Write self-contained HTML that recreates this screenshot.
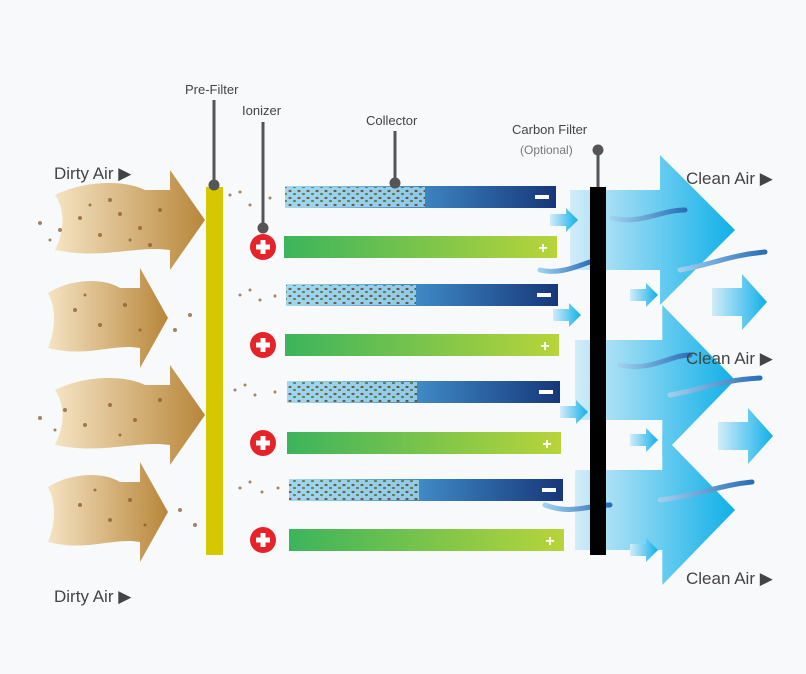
<!DOCTYPE html>
<html><head><meta charset="utf-8"><style>
html,body{margin:0;padding:0;background:#f8f9fb;}
svg{display:block;}
text{font-family:"Liberation Sans",sans-serif;fill:#444;}
</style></head><body>
<svg width="806" height="674" viewBox="0 0 806 674" xmlns="http://www.w3.org/2000/svg">
<defs>
<linearGradient id="br" x1="0" x2="1"><stop offset="0" stop-color="#f5e3c2"/><stop offset="1" stop-color="#b8863a"/></linearGradient>
<linearGradient id="bl" x1="0" x2="1"><stop offset="0" stop-color="#d3ecf9"/><stop offset="1" stop-color="#0fb0e8"/></linearGradient>
<linearGradient id="neg" x1="0" x2="1"><stop offset="0" stop-color="#a8dcf3"/><stop offset="0.5" stop-color="#3d86c2"/><stop offset="1" stop-color="#16377a"/></linearGradient>
<linearGradient id="pos" x1="0" x2="1"><stop offset="0" stop-color="#3cb45c"/><stop offset="1" stop-color="#b8d43a"/></linearGradient>
<linearGradient id="sw" x1="0" x2="1"><stop offset="0" stop-color="#9fd0ee"/><stop offset="1" stop-color="#2a6eb8"/></linearGradient>
<pattern id="dust" width="9" height="7" patternUnits="userSpaceOnUse">
<rect width="9" height="7" fill="#9fd6ef"/>
<ellipse cx="2" cy="2" rx="1.6" ry="1.1" fill="#6b4a2a"/><ellipse cx="6.5" cy="5" rx="1.6" ry="1.1" fill="#5a7a3a"/>
</pattern>
<linearGradient id="fade" x1="0" x2="1"><stop offset="0" stop-color="#fff" stop-opacity="1"/><stop offset="0.8" stop-color="#fff" stop-opacity="1"/><stop offset="1" stop-color="#fff" stop-opacity="0"/></linearGradient>
<mask id="dm"><rect x="0" y="0" width="806" height="674" fill="url(#fade)"/></mask>
<g id="brA"><path d="M-150,-25 C-120,-40 -80,-40 -60,-30 L-35,-30 L-35,-50 L0,0 L-35,50 L-35,30 C-70,25 -100,40 -150,30 C-140,10 -140,-10 -150,-25 Z" fill="url(#br)"/></g>
<g id="blA"><path d="M0,-40 L90,-40 L90,-75 L165,0 L90,75 L90,40 L0,40 Z" fill="url(#bl)"/></g>
<g id="sA"><path d="M0,-6 L16,-6 L16,-12 L28,0 L16,12 L16,6 L0,6 Z" fill="url(#bl)"/></g>
<g id="mA"><path d="M0,-14 L30,-14 L30,-28 L55,0 L30,28 L30,14 L0,14 Z" fill="url(#bl)"/></g>
</defs>

<use href="#brA" transform="translate(205,220)"/>
<use href="#brA" transform="translate(168,318) scale(0.8,1)"/>
<use href="#brA" transform="translate(205,415)"/>
<use href="#brA" transform="translate(168,512) scale(0.8,1)"/>
<g fill="#8a5a2a" opacity="0.75">
<circle cx="40" cy="223" r="2"/><circle cx="60" cy="230" r="2"/><circle cx="80" cy="218" r="2"/><circle cx="100" cy="235" r="2"/><circle cx="120" cy="214" r="2"/><circle cx="140" cy="228" r="2"/><circle cx="160" cy="210" r="2"/><circle cx="110" cy="200" r="2"/><circle cx="150" cy="245" r="2"/><circle cx="50" cy="240" r="1.5"/><circle cx="90" cy="205" r="1.5"/><circle cx="130" cy="240" r="1.5"/>
<circle cx="75" cy="310" r="2"/><circle cx="100" cy="325" r="2"/><circle cx="125" cy="305" r="2"/><circle cx="175" cy="330" r="2"/><circle cx="190" cy="315" r="2"/><circle cx="85" cy="295" r="1.5"/><circle cx="140" cy="330" r="1.5"/>
<circle cx="40" cy="418" r="2"/><circle cx="65" cy="410" r="2"/><circle cx="85" cy="425" r="2"/><circle cx="110" cy="405" r="2"/><circle cx="135" cy="420" r="2"/><circle cx="160" cy="400" r="2"/><circle cx="55" cy="430" r="1.5"/><circle cx="120" cy="435" r="1.5"/>
<circle cx="80" cy="505" r="2"/><circle cx="110" cy="520" r="2"/><circle cx="130" cy="500" r="2"/><circle cx="180" cy="510" r="2"/><circle cx="195" cy="525" r="2"/><circle cx="95" cy="490" r="1.5"/><circle cx="145" cy="525" r="1.5"/>
<circle cx="230" cy="195" r="1.5"/><circle cx="250" cy="205" r="1.5"/><circle cx="240" cy="192" r="1.5"/><circle cx="270" cy="198" r="1.5"/>
<circle cx="240" cy="295" r="1.5"/><circle cx="260" cy="300" r="1.5"/><circle cx="250" cy="290" r="1.5"/><circle cx="275" cy="296" r="1.5"/>
<circle cx="235" cy="390" r="1.5"/><circle cx="255" cy="395" r="1.5"/><circle cx="245" cy="385" r="1.5"/><circle cx="275" cy="392" r="1.5"/>
<circle cx="240" cy="488" r="1.5"/><circle cx="262" cy="492" r="1.5"/><circle cx="250" cy="482" r="1.5"/><circle cx="278" cy="488" r="1.5"/>
</g>

<use href="#blA" transform="translate(570,230)"/>
<use href="#blA" transform="translate(575,380) scale(0.97,1)"/>
<use href="#blA" transform="translate(575,510) scale(0.97,1)"/>
<use href="#mA" transform="translate(712,302)"/>
<use href="#mA" transform="translate(718,436)"/>
<use href="#sA" transform="translate(550,220)"/>
<use href="#sA" transform="translate(553,315)"/>
<use href="#sA" transform="translate(560,412)"/>
<use href="#sA" transform="translate(630,295)"/>
<use href="#sA" transform="translate(630,440)"/>
<use href="#sA" transform="translate(630,550)"/>
<g fill="none" stroke="url(#sw)" stroke-width="5" stroke-linecap="round">
<path d="M612,218 C640,225 660,210 685,210"/><path d="M680,270 C710,265 730,255 765,252"/>
<path d="M540,270 C560,275 580,265 590,262"/><path d="M620,365 C650,372 670,355 690,355"/>
<path d="M670,395 C700,390 720,380 760,378"/><path d="M660,500 C700,495 720,485 752,482"/>
<path d="M545,505 C570,515 590,505 610,505"/>
</g>

<rect x="285" y="186" width="271" height="22" fill="url(#neg)"/>
<rect x="286" y="284" width="272" height="22" fill="url(#neg)"/>
<rect x="287" y="381" width="273" height="22" fill="url(#neg)"/>
<rect x="289" y="479" width="274" height="22" fill="url(#neg)"/>
<rect x="284" y="236" width="273" height="22" fill="url(#pos)"/>
<rect x="285" y="334" width="274" height="22" fill="url(#pos)"/>
<rect x="287" y="432" width="274" height="22" fill="url(#pos)"/>
<rect x="289" y="529" width="275" height="22" fill="url(#pos)"/>
<g opacity="0.85">
<rect x="285" y="187" width="140" height="20" fill="url(#dust)"/>
<rect x="286" y="285" width="130" height="20" fill="url(#dust)"/>
<rect x="287" y="382" width="130" height="20" fill="url(#dust)"/>
<rect x="289" y="480" width="130" height="20" fill="url(#dust)"/>
</g>
<g fill="#fff">
<rect x="535" y="195" width="14" height="4"/><rect x="537" y="293" width="14" height="4"/><rect x="539" y="390" width="14" height="4"/><rect x="542" y="488" width="14" height="4"/>
</g>
<g font-weight="bold" font-size="16" text-anchor="middle">
<text x="543" y="253" style="fill:#fff">+</text><text x="545" y="351" style="fill:#fff">+</text><text x="547" y="449" style="fill:#fff">+</text><text x="550" y="546" style="fill:#fff">+</text>
</g>

<g fill="#e52328">
<circle cx="263" cy="247" r="13"/><circle cx="263" cy="345" r="13"/><circle cx="263" cy="443" r="13"/><circle cx="263" cy="540" r="13"/>
</g>
<g fill="#fff">
<rect x="256" y="244.5" width="14" height="5"/><rect x="260.5" y="240" width="5" height="14"/>
<rect x="256" y="342.5" width="14" height="5"/><rect x="260.5" y="338" width="5" height="14"/>
<rect x="256" y="440.5" width="14" height="5"/><rect x="260.5" y="436" width="5" height="14"/>
<rect x="256" y="537.5" width="14" height="5"/><rect x="260.5" y="533" width="5" height="14"/>
</g>

<rect x="206" y="187" width="17" height="368" fill="#d6c800"/>
<rect x="590" y="187" width="16" height="368" fill="#000"/>

<g stroke="#555" stroke-width="3" fill="#555">
<line x1="214" y1="100" x2="214" y2="187"/><circle cx="214" cy="185" r="4"/>
<line x1="263" y1="122" x2="263" y2="228"/><circle cx="263" cy="228" r="4"/>
<line x1="395" y1="131" x2="395" y2="183"/><circle cx="395" cy="183" r="4"/>
<line x1="598" y1="147" x2="598" y2="187"/><circle cx="598" cy="150" r="4"/>
</g>

<text x="185" y="94" font-size="13">Pre-Filter</text>
<text x="242" y="115" font-size="13">Ionizer</text>
<text x="366" y="125" font-size="13">Collector</text>
<text x="512" y="134" font-size="13">Carbon Filter</text>
<text x="520" y="154" font-size="12" style="fill:#777">(Optional)</text>
<text x="54" y="179" font-size="17">Dirty Air ▶</text>
<text x="54" y="602" font-size="17">Dirty Air ▶</text>
<text x="686" y="184" font-size="17">Clean Air ▶</text>
<text x="686" y="364" font-size="17">Clean Air ▶</text>
<text x="686" y="584" font-size="17">Clean Air ▶</text>
</svg>
</body></html>
